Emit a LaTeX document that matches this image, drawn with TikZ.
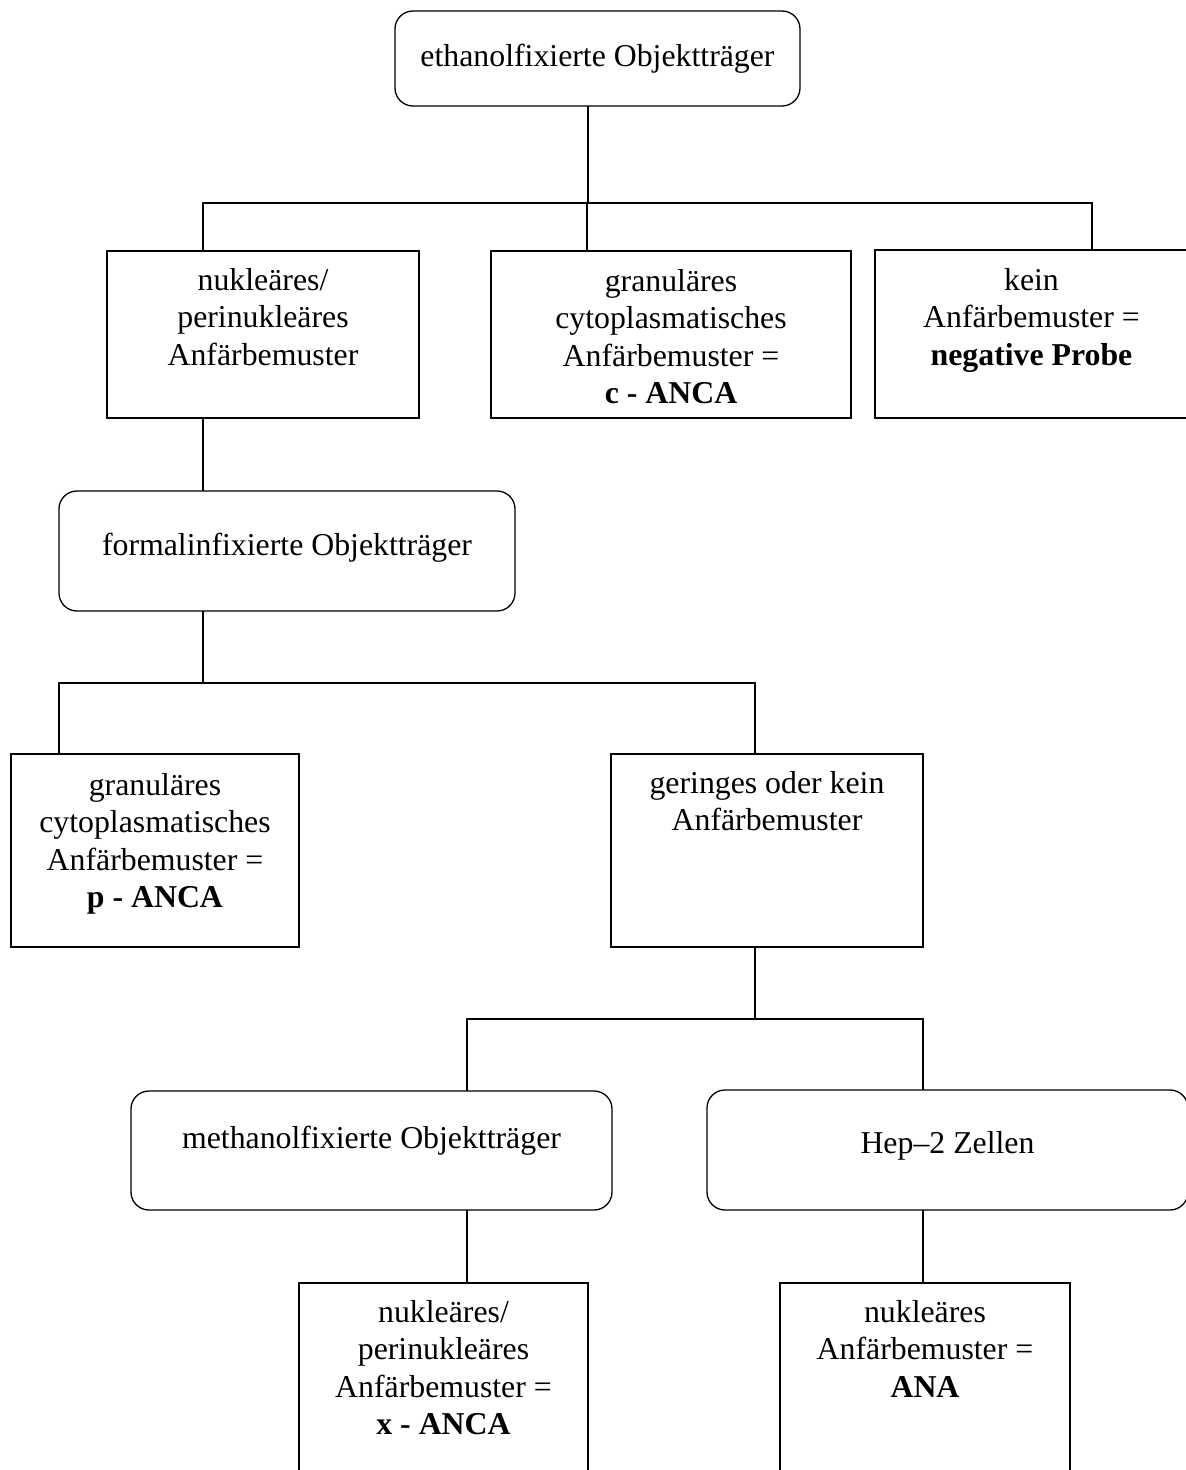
\documentclass[tikz,border=0pt]{standalone}
\usepackage{fontspec}
\setmainfont[Ligatures=CommonOff]{Liberation Serif}
\newcommand\bxtext[4]{\parbox[c][#2][t]{#1}{\centering\rule{0pt}{#3}\ignorespaces#4\par}}
\tikzset{
  box/.style={draw, line width=1.3pt, rectangle, inner sep=0pt, outer sep=0pt},
  rbox/.style={box, rounded corners=18pt},
  conn/.style={line width=1.3pt}
}
\begin{document}
\begin{tikzpicture}[x=1pt,y=-1pt,font=\fontsize{31.8}{37.5}\selectfont]
\useasboundingbox (0,0) rectangle (1186,1470);
\clip (0,0) rectangle (1186,1470);
\fill[white] (0,0) rectangle (1186,1470);
% nodes
\node[rbox] (eth) at (597.5,58.5) {\bxtext{405pt}{95pt}{55pt}{ethanolfixierte Objektträger}};
\node[box] (n1) at (263,334.5) {\bxtext{312pt}{167pt}{39pt}{nukleäres/\\perinukleäres\\Anfärbemuster}};
\node[box] (cb) at (671,334.5) {\bxtext{360pt}{167pt}{40pt}{granuläres\\cytoplasmatisches\\Anfärbemuster =\\\textbf{c - ANCA}}};
\node[box] (kein) at (1031.5,334) {\bxtext{313pt}{168pt}{40pt}{kein\\Anfärbemuster =\\\textbf{negative Probe}}};
\node[rbox] (form) at (287,551) {\bxtext{456pt}{120pt}{64pt}{formalinfixierte Objektträger}};
\node[box] (pb) at (155,850.5) {\bxtext{288pt}{193pt}{41pt}{granuläres\\cytoplasmatisches\\Anfärbemuster =\\\textbf{p - ANCA}}};
\node[box] (ger) at (767,850.5) {\bxtext{312pt}{193pt}{39pt}{geringes oder kein\\Anfärbemuster}};
\node[rbox] (meth) at (371.5,1150.5) {\bxtext{481pt}{119pt}{57pt}{methanolfixierte Objektträger}};
\node[rbox] (hep) at (947.5,1150) {\bxtext{481pt}{120pt}{63pt}{Hep–2 Zellen}};
\node[box] (xb) at (443.5,1391.5) {\bxtext{289pt}{217pt}{39pt}{nukleäres/\\perinukleäres\\Anfärbemuster =\\\textbf{x - ANCA}}};
\node[box] (ana) at (925,1391.5) {\bxtext{290pt}{217pt}{39pt}{nukleäres\\Anfärbemuster =\\\textbf{ANA}}};
% bus coordinates
\coordinate (s1) at (588,203);
\coordinate (b1l) at (203,203);
\coordinate (b1m) at (587,203);
\coordinate (b1r) at (1092,203);
\coordinate (s2) at (203,0);
\coordinate (s3) at (203,683);
\coordinate (b3l) at (59,683);
\coordinate (b3r) at (755,683);
\coordinate (s4) at (755,1019);
\coordinate (b4l) at (467,1019);
\coordinate (b4r) at (923,1019);
% connectors
\draw[conn] (s1 |- eth.south) -- (s1);
\draw[conn] (b1l |- n1.north) -- (b1l) -- (b1r) -- (b1r |- kein.north);
\draw[conn] (b1m) -- (b1m |- cb.north);
\draw[conn] (s2 |- n1.south) -- (s2 |- form.north);
\draw[conn] (s3 |- form.south) -- (s3);
\draw[conn] (b3l |- pb.north) -- (b3l) -- (b3r) -- (b3r |- ger.north);
\draw[conn] (s4 |- ger.south) -- (s4);
\draw[conn] (b4l |- meth.north) -- (b4l) -- (b4r) -- (b4r |- hep.north);
\draw[conn] (b4l |- meth.south) -- (b4l |- xb.north);
\draw[conn] (b4r |- hep.south) -- (b4r |- ana.north);
\end{tikzpicture}
\end{document}
